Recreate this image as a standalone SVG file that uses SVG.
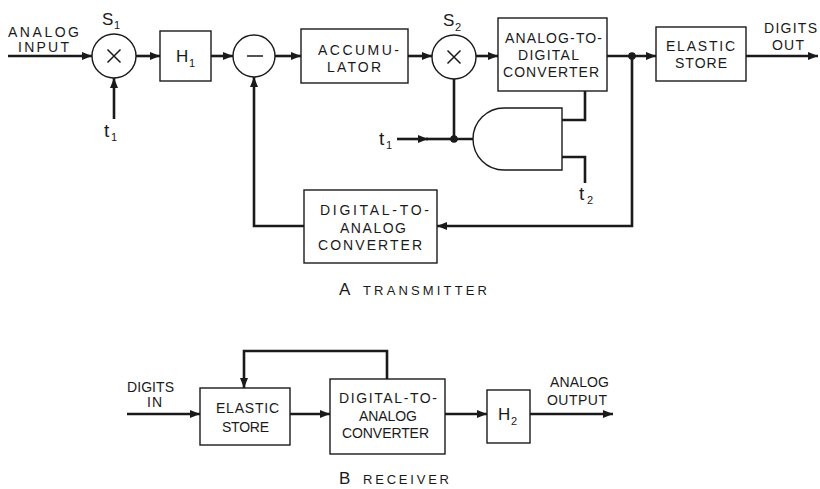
<svg xmlns="http://www.w3.org/2000/svg" width="820" height="489" viewBox="0 0 820 489">
<defs>
<marker id="ah" viewBox="0 0 10 8" refX="10" refY="4" markerWidth="10" markerHeight="8" markerUnits="userSpaceOnUse" orient="auto">
<path d="M0,0 L10,4 L0,8 z" fill="#1a1a1a"/>
</marker>
<style>
.box{fill:#fff;stroke:#1a1a1a;stroke-width:1.4}
.wire{fill:none;stroke:#1a1a1a;stroke-width:2.6}
.arr{fill:none;stroke:#1a1a1a;stroke-width:2.6;marker-end:url(#ah)}
.sym{fill:none;stroke:#1a1a1a;stroke-width:1.5}
text{font-family:"Liberation Sans",Arial,sans-serif;fill:#1a1a1a}
.lb{font-size:14px;letter-spacing:1px}
.big{font-size:17px}
.tt{font-size:19px}
.sub{font-size:11px}
.sc{font-size:13px;letter-spacing:1px}
</style>
</defs>
<rect width="820" height="489" fill="#fff"/>

<g id="connectors">
<path class="arr" d="M8,56 H92"/>
<path class="arr" d="M114,119 V78"/>
<path class="arr" d="M136,56 H160"/>
<path class="arr" d="M211,56 H233"/>
<path class="arr" d="M275,56 H301"/>
<path class="arr" d="M408,56 H432"/>
<path class="arr" d="M476,56 H498"/>
<path class="arr" d="M607,56 H656"/>
<path class="arr" d="M746,56 H818"/>
<path class="wire" d="M454,79 V139 H473"/>
<path class="arr" d="M397,139 H428"/>
<path class="wire" d="M426,139 H454"/>
<path class="wire" d="M562,120 H585 V91"/>
<path class="wire" d="M562,157 H585 V183"/>
<path class="arr" d="M632,56 V226 H437"/>
<path class="arr" d="M304,226 H254 V77"/>
<path class="arr" d="M127,414 H200"/>
<path class="arr" d="M290,414 H330"/>
<path class="arr" d="M445,414 H487"/>
<path class="arr" d="M530,414 H613"/>
<path class="arr" d="M387,379 V351 H244 V388"/>
</g>
<circle cx="632" cy="56" r="3.8" fill="#1a1a1a"/>
<circle cx="454" cy="139" r="3.8" fill="#1a1a1a"/>

<g id="labels-io">
<text class="lb" x="8" y="37" textLength="72">ANALOG</text>
<text class="lb" x="18" y="52" textLength="52">INPUT</text>
<text class="lb" x="764" y="33" textLength="54">DIGITS</text>
<text class="lb" x="772" y="50" textLength="33">OUT</text>
<text class="tt" x="104" y="137">t</text><text class="sub" x="111" y="141">1</text>
<text class="tt" x="379" y="145">t</text><text class="sub" x="386" y="149">1</text>
<text class="tt" x="579" y="200">t</text><text class="sub" x="587" y="204">2</text>
</g>

<g id="S1">
<circle class="box" cx="114" cy="56" r="22"/>
<path class="sym" d="M107.5,49.5 L120.5,62.5 M120.5,49.5 L107.5,62.5"/>
<text class="big" x="102" y="25">S</text><text class="sub" x="114" y="29">1</text>
</g>

<g id="H1">
<rect class="box" x="160" y="31" width="51" height="50"/>
<text class="big" x="176" y="62">H</text><text class="sub" x="189" y="67">1</text>
</g>

<g id="subtract">
<circle class="box" cx="254" cy="56" r="21"/>
<path class="sym" d="M247,56 H263"/>
</g>

<g id="accumulator">
<rect class="box" x="301" y="29" width="107" height="54"/>
<text class="lb" x="318" y="55" textLength="82">ACCUMU-</text>
<text class="lb" x="327" y="72" textLength="55">LATOR</text>
</g>

<g id="S2">
<circle class="box" cx="454" cy="57" r="22"/>
<path class="sym" d="M447.5,50.5 L460.5,63.5 M460.5,50.5 L447.5,63.5"/>
<text class="big" x="443" y="26">S</text><text class="sub" x="455" y="31">2</text>
</g>

<g id="adc">
<rect class="box" x="498" y="18" width="109" height="73"/>
<text class="lb" x="505" y="43" textLength="98">ANALOG-TO-</text>
<text class="lb" x="518" y="60" textLength="62">DIGITAL</text>
<text class="lb" x="503" y="77" textLength="97">CONVERTER</text>
</g>

<g id="elastic-tx">
<rect class="box" x="656" y="27" width="90" height="54"/>
<text class="lb" x="666" y="51" textLength="70">ELASTIC</text>
<text class="lb" x="675" y="68" textLength="53">STORE</text>
</g>

<g id="and-gate">
<path class="box" d="M562,108 H504 A31,31 0 0 0 504,170 H562 Z"/>
</g>

<g id="dac-tx">
<rect class="box" x="304" y="190" width="133" height="73"/>
<text class="lb" x="320" y="215" textLength="110">DIGITAL-TO-</text>
<text class="lb" x="340" y="233" textLength="67">ANALOG</text>
<text class="lb" x="318" y="250" textLength="105">CONVERTER</text>
</g>

<g id="caption-a">
<text class="big" x="339" y="295">A</text>
<text class="sc" x="363" y="295" textLength="125">TRANSMITTER</text>
</g>

<g id="labels-rx">
<text class="lb" x="127" y="392" textLength="48">DIGITS</text>
<text class="lb" x="147" y="407">IN</text>
<text class="lb" x="550" y="387" textLength="60">ANALOG</text>
<text class="lb" x="547" y="405" textLength="61">OUTPUT</text>
</g>

<g id="elastic-rx">
<rect class="box" x="200" y="388" width="90" height="57"/>
<text class="lb" x="216" y="413" textLength="64">ELASTIC</text>
<text class="lb" x="222" y="432" textLength="48">STORE</text>
</g>

<g id="dac-rx">
<rect class="box" x="330" y="379" width="115" height="75"/>
<text class="lb" x="339" y="403" textLength="99">DIGITAL-TO-</text>
<text class="lb" x="359" y="421" textLength="59">ANALOG</text>
<text class="lb" x="342" y="438" textLength="88">CONVERTER</text>
</g>

<g id="H2">
<rect class="box" x="487" y="390" width="43" height="53"/>
<text class="big" x="498" y="420">H</text><text class="sub" x="511" y="425">2</text>
</g>

<g id="caption-b">
<text class="big" x="339" y="484">B</text>
<text class="sc" x="363" y="484" textLength="87">RECEIVER</text>
</g>
</svg>
